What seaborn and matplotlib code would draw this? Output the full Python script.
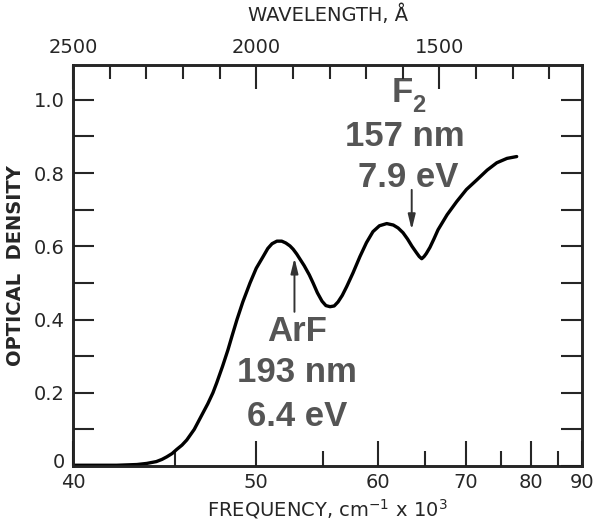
import numpy as np
import matplotlib
matplotlib.use("Agg")
import matplotlib.pyplot as plt
import matplotlib.ticker as mticker
import matplotlib.transforms as mtransforms
import seaborn as sns
import pandas as pd

# ---- data (frequency in 10^3 cm^-1, optical density) ----
frequency = [40.0, 41.0, 42.0, 42.5, 43.0, 43.5, 44.0, 44.3, 44.56, 44.85, 45.1,
             45.4, 45.67, 46.1, 46.61, 46.9, 47.21, 47.44, 47.8, 48.14, 48.4,
             48.72, 49.1, 49.58, 50.0, 50.46, 50.8, 51.10, 51.45, 51.80, 52.1,
             52.41, 52.65, 52.92, 53.5, 53.9, 54.20, 54.55, 54.93, 55.25, 55.60,
             55.95, 56.28, 56.65, 57.04, 57.6, 58.24, 58.85, 59.47, 60.1, 60.83,
             61.5, 62.0, 62.52, 63.0, 63.49, 64.0, 64.3, 64.58, 64.85, 65.1,
             65.53, 66.0, 66.49, 67.6, 68.82, 70.1, 71.51, 73.0, 74.42, 76.0,
             77.56]
optical_density = [0.002, 0.002, 0.002, 0.003, 0.004, 0.007, 0.012, 0.018, 0.025,
                   0.034, 0.045, 0.057, 0.071, 0.100, 0.145, 0.170, 0.200, 0.227,
                   0.272, 0.317, 0.355, 0.400, 0.448, 0.500, 0.540, 0.571, 0.594,
                   0.607, 0.614, 0.614, 0.609, 0.601, 0.592, 0.579, 0.547, 0.522,
                   0.500, 0.473, 0.450, 0.438, 0.435, 0.437, 0.448, 0.466, 0.490,
                   0.527, 0.572, 0.610, 0.640, 0.656, 0.662, 0.658, 0.650, 0.637,
                   0.620, 0.600, 0.582, 0.572, 0.566, 0.572, 0.580, 0.597, 0.620,
                   0.645, 0.686, 0.722, 0.755, 0.781, 0.808, 0.828, 0.840, 0.845]

freq_ticks = [40, 50, 60, 70, 80, 90]
freq_minor = [45, 55, 65, 75, 85]
wl_major = [2500, 2000, 1500]
wl_minor = [2400, 2300, 2200, 2100, 1900, 1800, 1700, 1600, 1400, 1300, 1200]
od_major = [0.0, 0.2, 0.4, 0.6, 0.8, 1.0]
od_major_labels = ["0", "0.2", "0.4", "0.6", "0.8", "1.0"]
od_minor = [0.1, 0.3, 0.5, 0.7, 0.9]

df = pd.DataFrame({"freq": frequency, "od": optical_density})

sns.set_style("white")
plt.rcParams["font.family"] = ["DejaVu Sans"]

fig = plt.figure(figsize=(6.0, 5.23), dpi=100)
ax = fig.add_axes([0.1217, 0.109, 0.97 - 0.1217, 0.8757 - 0.109])


def fwd(v):
    v = np.asarray(v, dtype=float)
    with np.errstate(divide="ignore", invalid="ignore"):
        return -1.0 / v


def inv(u):
    u = np.asarray(u, dtype=float)
    with np.errstate(divide="ignore", invalid="ignore"):
        return -1.0 / u


sns.lineplot(data=df, x="freq", y="od", ax=ax, color="black", lw=2.4,
             sort=False, estimator=None)
for ln in ax.get_lines():
    ln.set_solid_joinstyle("round")
    ln.set_solid_capstyle("round")
ax.set_xscale("function", functions=(fwd, inv))
ax.set_xlim(40, 90)
ax.set_ylim(0, 1.095)

spine_lw = 1.8
for s in ax.spines.values():
    s.set_linewidth(spine_lw)
    s.set_color("black")
    s.set_visible(True)

# bottom axis (frequency)
ax.xaxis.set_major_locator(mticker.FixedLocator(freq_ticks))
ax.xaxis.set_minor_locator(mticker.FixedLocator(freq_minor))
ax.set_xticklabels([str(t) for t in freq_ticks])
ax.tick_params(axis="x", which="major", direction="in", length=18, width=1.5,
               labelsize=14, pad=5, top=False, bottom=True)
ax.tick_params(axis="x", which="minor", direction="in", length=11, width=1.5,
               top=False, bottom=True)
ax.set_xlabel("FREQUENCY, cm$^{-1}$ x 10$^{3}$", fontsize=14, labelpad=4)

# left / right axis (optical density)
ax.yaxis.set_major_locator(mticker.FixedLocator(od_major))
ax.yaxis.set_minor_locator(mticker.FixedLocator(od_minor))
ax.set_yticklabels(od_major_labels)
ax.tick_params(axis="y", which="both", direction="in", length=15, width=1.5,
               labelsize=14, pad=6, left=True, right=True)
ax.set_ylabel("OPTICAL  DENSITY", fontsize=14, fontweight="bold", labelpad=6)

# nudge the "0" label up a little so it sits above the "40" label
zero_lbl = ax.get_yticklabels()[0]
zero_lbl.set_transform(zero_lbl.get_transform() +
                       mtransforms.ScaledTranslation(0, 4 / 72, fig.dpi_scale_trans))

# top axis (wavelength)
ax2 = ax.twiny()
ax2.set_xscale("function", functions=(fwd, inv))
ax2.set_xlim(ax.get_xlim())
ax2.xaxis.set_major_locator(mticker.FixedLocator([1e5 / w for w in wl_major]))
ax2.xaxis.set_minor_locator(mticker.FixedLocator([1e5 / w for w in wl_minor]))
ax2.set_xticklabels([str(w) for w in wl_major])
ax2.tick_params(axis="x", which="major", direction="in", length=17, width=1.5,
                labelsize=14, pad=6)
ax2.tick_params(axis="x", which="minor", direction="in", length=10, width=1.5)
ax2.set_xlabel("WAVELENGTH, Å", fontsize=14, labelpad=12)
for s in ax2.spines.values():
    s.set_linewidth(spine_lw)

# annotations
tc = "#555555"
afont = dict(family=["Liberation Sans", "DejaVu Sans"], fontweight="bold",
             color=tc, ha="center", va="center")
arrow = dict(arrowstyle="-|>,head_length=0.9,head_width=0.22",
             color="#333333", lw=1.4, shrinkA=0, shrinkB=0)

ax.annotate("", xy=(52.75, 0.568), xytext=(52.75, 0.421), arrowprops=arrow)
ax.text(52.94, 0.366, "ArF", fontsize=25, **afont)
ax.text(52.94, 0.254, "193 nm", fontsize=25, **afont)
ax.text(52.94, 0.134, "6.4 eV", fontsize=25, **afont)

ax.annotate("", xy=(63.46, 0.645), xytext=(63.46, 0.754), arrowprops=arrow)
ax.text(62.41, 1.019, "F", fontsize=25, **afont)
ax.text(64.27, 0.985, "2", fontsize=17, **afont)
ax.text(62.74, 0.899, "157 nm", fontsize=25, **afont)
ax.text(63.05, 0.787, "7.9 eV", fontsize=25, **afont)

fig.savefig("out.png", dpi=100, facecolor="white")
